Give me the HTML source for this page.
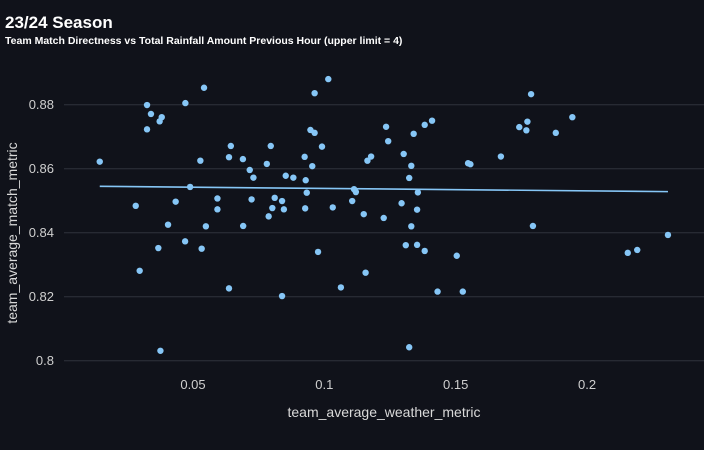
<!DOCTYPE html>
<html><head><meta charset="utf-8"><style>
html,body{margin:0;padding:0;background:#10121a;}
svg{display:block;font-family:"Liberation Sans",sans-serif;}
</style></head><body>
<svg id="chart" width="704" height="450" xmlns="http://www.w3.org/2000/svg">
<rect width="704" height="450" fill="#10121a"/>
<text x="5" y="28" fill="#ffffff" font-size="17" font-weight="bold">23/24 Season</text>
<text x="5" y="44" fill="#ffffff" font-size="10.5" font-weight="bold">Team Match Directness vs Total Rainfall Amount Previous Hour (upper limit = 4)</text>
<g id="grid"></g>
<g id="yticks"></g>
<g id="xticks"></g>
<g id="line"></g>
<g id="points"></g>
<text x="384" y="417" fill="#d9d9d9" font-size="14" text-anchor="middle">team_average_weather_metric</text>
<text transform="translate(17,233) rotate(-90)" fill="#d9d9d9" font-size="14" text-anchor="middle">team_average_match_metric</text>
</svg>
<script>
const xTicks = [0.05, 0.1, 0.15, 0.2];
const xTickLabels = ["0.05", "0.1", "0.15", "0.2"];
const yTicks = [0.8, 0.82, 0.84, 0.86, 0.88];
const yTickLabels = ["0.8", "0.82", "0.84", "0.86", "0.88"];
const weatherValues = [0.0145,0.0325,0.034,0.0381,0.0373,0.0325,0.0471,0.0542,0.0528,0.0489,0.0282,0.0434,0.0405,0.0368,0.0297,0.0470,0.0533,0.0549,0.0376,0.0644,0.0637,0.0690,0.0796,0.0781,0.0716,0.0730,0.0593,0.0593,0.0723,0.0691,0.0637,0.0811,0.0802,0.0788,0.0839,0.0846,0.0853,0.0882,0.0839,0.0925,0.0929,0.0933,0.0927,0.0954,0.0947,0.0963,0.0991,0.0963,0.1015,0.0976,0.1032,0.1063,0.1106,0.1113,0.1120,0.1150,0.1157,0.1164,0.1178,0.1235,0.1243,0.1302,0.1331,0.1323,0.1356,0.1340,0.1382,0.1410,0.1294,0.1353,0.1226,0.1331,0.1310,0.1353,0.1382,0.1504,0.1431,0.1527,0.1323,0.1547,0.1556,0.1672,0.1742,0.1773,0.1769,0.1787,0.1881,0.1944,0.1794,0.2155,0.2191,0.2308];
const matchValues = [0.8622,0.8799,0.8771,0.8761,0.8748,0.8723,0.8805,0.8853,0.8625,0.8543,0.8484,0.8497,0.8425,0.8352,0.8281,0.8373,0.8350,0.8420,0.8031,0.8671,0.8636,0.8630,0.8671,0.8615,0.8596,0.8572,0.8507,0.8473,0.8504,0.8421,0.8226,0.8509,0.8477,0.8451,0.8499,0.8473,0.8578,0.8572,0.8202,0.8637,0.8564,0.8525,0.8476,0.8608,0.8721,0.8712,0.8669,0.8836,0.8880,0.8340,0.8479,0.8229,0.8499,0.8536,0.8527,0.8458,0.8275,0.8625,0.8638,0.8731,0.8686,0.8646,0.8609,0.8571,0.8526,0.8709,0.8737,0.8750,0.8492,0.8472,0.8446,0.8420,0.8361,0.8362,0.8343,0.8328,0.8216,0.8216,0.8042,0.8617,0.8614,0.8638,0.8730,0.8747,0.8720,0.8833,0.8712,0.8761,0.8421,0.8337,0.8346,0.8393];

const NS = "http://www.w3.org/2000/svg";
function xScale(v){ return 193 + (v - 0.05) * 2627; }
function yScale(v){ return 104.7 + (0.88 - v) * 3200; }
function mk(tag, attrs, parent){ const e = document.createElementNS(NS, tag); for (const k in attrs) e.setAttribute(k, attrs[k]); parent.appendChild(e); return e; }

const grid = document.getElementById('grid');
const yt = document.getElementById('yticks');
yTicks.forEach((v, i) => {
  const y = yScale(v);
  const g = mk('line', {x1:64, x2:704, y1:y, y2:y, stroke:'#272a33', 'stroke-width':1.3}, grid);
  
  
  const t = mk('text', {x:54, y:y+4.5, fill:'#cfcfcf', 'font-size':13, 'text-anchor':'end'}, yt);
  t.textContent = yTickLabels[i];
  
  
});
const xt = document.getElementById('xticks');
xTicks.forEach((v, i) => {
  const t = mk('text', {x:xScale(v), y:389, fill:'#cfcfcf', 'font-size':13, 'text-anchor':'middle'}, xt);
  t.textContent = xTickLabels[i];
  
  
});

// regression line
const n = weatherValues.length;
let mx = 0, my = 0;
for (let i = 0; i < n; i++){ mx += weatherValues[i]; my += matchValues[i]; }
mx /= n; my /= n;
let sxy = 0, sxx = 0;
for (let i = 0; i < n; i++){ sxy += (weatherValues[i]-mx)*(matchValues[i]-my); sxx += (weatherValues[i]-mx)**2; }
const slope = sxy / sxx, icpt = my - slope * mx;
const xmin = Math.min(...weatherValues), xmax = Math.max(...weatherValues);
const ln = mk('line', {x1:xScale(xmin), y1:yScale(icpt+slope*xmin), x2:xScale(xmax), y2:yScale(icpt+slope*xmax), stroke:'#86c6f6', 'stroke-width':1.6}, document.getElementById('line'));



const pts = document.getElementById('points');
for (let i = 0; i < n; i++){
  const c = mk('circle', {cx:xScale(weatherValues[i]), cy:yScale(matchValues[i]), r:3.2, fill:'#86c6f6'}, pts);
  
  
}
</script>
</body></html>
